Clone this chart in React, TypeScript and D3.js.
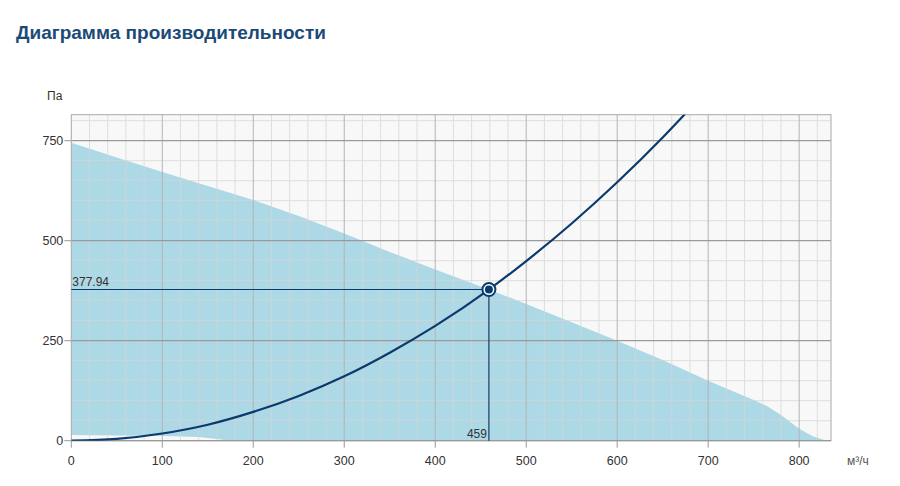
import React from 'react';
import * as d3 from 'd3';

// fan performance envelope (м³/ч, Па)
const upperFlow = [0, 50, 100, 150, 200, 250, 300, 350, 400, 459, 500, 550, 600, 650, 700, 750, 765, 780, 800, 815, 830];
const upperPress = [745, 708, 672, 637, 602, 562, 518, 472, 428, 378, 342, 296, 250, 202, 150, 102, 86, 64, 30, 11, 0];
const lowerFlow = [0, 100, 140, 160, 175, 830];
const lowerPress = [14, 12, 9, 4, 0, 0];

// system (network) curve
const sysFlow = [0, 50, 100, 150, 200, 250, 300, 350, 400, 459, 500, 550, 600, 650, 680];
const sysPress = [0, 4.5, 18, 40, 72, 112, 161, 220, 287, 377.94, 449, 543, 646, 758, 830];

const workFlow = 459;
const workPress = 377.94;

const xTicks = [0, 100, 200, 300, 400, 500, 600, 700, 800];
const yTicks = [0, 250, 500, 750];

const W = 900;
const H = 486;
const plot = { left: 71.3, right: 831, top: 114.7, bottom: 440.7 };

const App: React.FC = () => {
  const x = d3.scaleLinear().domain([0, 835]).range([plot.left, plot.right]);
  const y = d3.scaleLinear().domain([0, 815]).range([plot.bottom, plot.top]);

  const upper = upperFlow.map((f, i) => [f, upperPress[i]] as [number, number]);
  const lower = lowerFlow.map((f, i) => [f, lowerPress[i]] as [number, number]);
  const envelope = [...upper, ...lower.slice().reverse()];
  const areaPath = d3.line<[number, number]>().x(d => x(d[0])).y(d => y(d[1]))(envelope) + 'Z';

  const sysPath = d3.line<number>()
    .x(d => x(d))
    .y((_, i) => y(sysPress[i]))
    .curve(d3.curveMonotoneX)(sysFlow) as string;

  const minorX = d3.range(20, 835, 20).filter(v => v % 100 !== 0);
  const minorY = d3.range(50, 815, 50).filter(v => v % 250 !== 0);

  const px = x(workFlow);
  const py = y(workPress);
  const navy = '#0b3a6c';
  const font = 'Arial, "Liberation Sans", sans-serif';

  return (
    <svg width={W} height={H} style={{ position: 'absolute', left: 0, top: 0 }} fontFamily={font}>
      <text x={16} y={39} fontSize={19} fontWeight="bold" fill="#1b4a76">Диаграмма производительности</text>

      <defs>
        <clipPath id="plotClip">
          <rect x={plot.left} y={plot.top} width={plot.right - plot.left} height={plot.bottom - plot.top} />
        </clipPath>
      </defs>

      <rect x={plot.left} y={plot.top} width={plot.right - plot.left} height={plot.bottom - plot.top} fill="#f8f8f8" />
      <path d={areaPath} fill="#add8e6" clipPath="url(#plotClip)" />

      <g opacity={0.75}>
        {minorX.map(v => (
          <line key={'mx' + v} x1={x(v)} x2={x(v)} y1={plot.top} y2={plot.bottom} stroke="#d6d6d6" strokeWidth={1} />
        ))}
        {minorY.map(v => (
          <line key={'my' + v} x1={plot.left} x2={plot.right} y1={y(v)} y2={y(v)} stroke="#d6d6d6" strokeWidth={1} />
        ))}
      </g>
      {xTicks.filter(v => v > 0).map(v => (
        <line key={'Mx' + v} x1={x(v)} x2={x(v)} y1={plot.top} y2={plot.bottom} stroke="#b4b4b4" strokeWidth={1} />
      ))}
      {yTicks.filter(v => v > 0).map(v => (
        <line key={'My' + v} x1={plot.left} x2={plot.right} y1={y(v)} y2={y(v)} stroke="#9a9a9a" strokeWidth={1.2} />
      ))}
      <rect x={plot.left} y={plot.top} width={plot.right - plot.left} height={plot.bottom - plot.top} fill="none" stroke="#a8a8a8" strokeWidth={1} />
      <line x1={plot.left} x2={plot.right} y1={plot.bottom} y2={plot.bottom} stroke="#999" strokeWidth={1.2} />

      {/* axes ticks and labels */}
      {yTicks.map(v => (
        <g key={'yt' + v}>
          <line x1={plot.left - 7} x2={plot.left} y1={y(v)} y2={y(v)} stroke="#999" />
          <text x={plot.left - 8} y={y(v)} dy="0.35em" textAnchor="end" fontSize={12.5} fill="#333">{v}</text>
        </g>
      ))}
      {xTicks.map(v => (
        <g key={'xt' + v}>
          <line x1={x(v)} x2={x(v)} y1={plot.bottom} y2={plot.bottom + 7} stroke="#999" />
          <text x={x(v)} y={plot.bottom + 24} textAnchor="middle" fontSize={12.5} fill="#333">{v}</text>
        </g>
      ))}
      <text x={47} y={100} fontSize={12} fill="#333">Па</text>
      <text x={847} y={465} fontSize={12} fill="#555">м³/ч</text>

      {/* operating point guides */}
      <line x1={plot.left} x2={px} y1={py} y2={py} stroke={navy} strokeWidth={1.2} />
      <line x1={px} x2={px} y1={py} y2={plot.bottom} stroke={navy} strokeWidth={1.2} />
      <text x={plot.left + 1} y={py - 4} fontSize={12} fill="#333">{workPress.toFixed(2)}</text>
      <text x={px - 2} y={plot.bottom - 3} textAnchor="end" fontSize={12} fill="#333">{workFlow}</text>

      <path d={sysPath} fill="none" stroke={navy} strokeWidth={2.2} clipPath="url(#plotClip)" />

      <circle cx={px} cy={py} r={6.5} fill="#fff" stroke={navy} strokeWidth={2} />
      <circle cx={px} cy={py} r={4} fill={navy} />
    </svg>
  );
};

export default App;
